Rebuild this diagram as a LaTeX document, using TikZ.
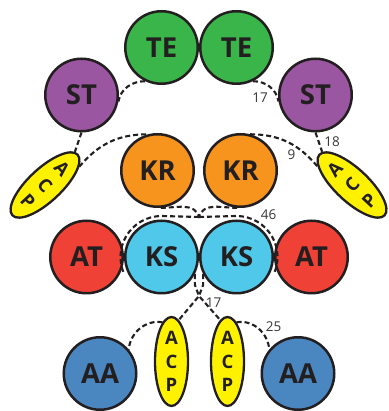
\documentclass[tikz,border=0pt]{standalone}
\usepackage{fontspec}
\setmainfont{Open Sans}
\usetikzlibrary{shapes.geometric}

\definecolor{ink}{HTML}{231F20}
\definecolor{teGreen}{HTML}{39B54A}
\definecolor{stPurple}{HTML}{9A56A1}
\definecolor{krOrange}{HTML}{F7941D}
\definecolor{atRed}{HTML}{EF4136}
\definecolor{ksCyan}{HTML}{4FC8EA}
\definecolor{aaBlue}{HTML}{4A86C0}
\definecolor{acpYellow}{HTML}{FFF200}

\tikzset{
  modball/.style={circle, draw=ink, line width=2.5pt, minimum size=72.5pt,
    inner sep=0pt, text=ink, font=\fontsize{27.5}{27.5}\selectfont\bfseries},
  carrier/.style={ellipse, draw=ink, fill=acpYellow, line width=2.3pt,
    minimum width=33pt, minimum height=89pt, inner sep=0pt, align=center,
    text=ink, font=\fontsize{18.5}{23.5}\selectfont\bfseries},
  linker/.style={draw=ink, line width=2.1pt, dash pattern=on 5pt off 3pt},
  lenlabel/.style={inner sep=0pt, text=ink!90, font=\fontsize{13.5}{13.5}\selectfont}
}

\begin{document}
\begin{tikzpicture}[x=1pt, y=1pt]
\useasboundingbox (0,0) rectangle (388,411);

% thioesterase dimer and starter units
\node[modball, fill=teGreen]  (teL) at (161.5,363.5) {TE};
\node[modball, fill=teGreen]  (teR) at (236.5,363.5) {TE};
\node[modball, fill=stPurple] (stL) at (81.5,316) {ST};
\node[modball, fill=stPurple] (stR) at (315.5,316) {ST};

% ketoreductases and tilted carrier proteins
\node[modball, fill=krOrange] (krL) at (157.5,240.5) {KR};
\node[modball, fill=krOrange] (krR) at (240.5,240.5) {KR};
\node[carrier, rotate=-47] (acpTL) at (45,226) {A\\C\\P};
\node[carrier, rotate=47]  (acpTR) at (352,226) {A\\C\\P};

% acyltransferases and ketosynthase dimer
\node[modball, fill=atRed]  (atL) at (86.5,154) {AT};
\node[modball, fill=ksCyan] (ksL) at (161.5,154) {KS};
\node[modball, fill=ksCyan] (ksR) at (236.5,154) {KS};
\node[modball, fill=atRed]  (atR) at (311.5,154) {AT};

% lower carrier proteins and adenylation domains
\node[carrier] (acpBL) at (171.5,49.5) {A\\C\\P};
\node[carrier] (acpBR) at (227.5,49.5) {A\\C\\P};
\node[modball, fill=aaBlue] (aaL) at (100,37.5) {AA};
\node[modball, fill=aaBlue] (aaR) at (298,37.5) {AA};

% linker junctions
\coordinate (J) at (199,194);
\coordinate (K) at (199,115);

% linkers
\draw[linker] (teL.244) to[out=180, in=80] (stL.-10);
\draw[linker] (teR.296) to[out=0, in=100] (stR.190);
\draw[linker] (stL.south) -- (acpTL.95);
\draw[linker] (stR.south) -- (acpTR.85);
\draw[linker] (acpTL.75) to[out=50, in=180] (krL.105);
\draw[linker] (krR.75) to[out=0, in=130] (acpTR.105);

\draw[linker] (krL.-85) to[out=0, in=105] (J);
\draw[linker] (krR.-95) to[out=180, in=75] (J);
\draw[linker] (J) -- ([yshift=41pt]ksL.center) arc[start angle=90, end angle=205, radius=41];
\draw[linker] (J) -- ([yshift=41pt]ksR.center) arc[start angle=90, end angle=-25, radius=41];

\draw[linker] (ksL.-27) -- ++(0,-11) -- (K) -- (acpBL.80);
\draw[linker] (ksR.207) -- ++(0,-11) -- (K) -- (acpBR.100);

\draw[linker] (acpBL.103) to[out=170, in=85] (aaL.40);
\draw[linker] (acpBR.77) to[out=10, in=95] (aaR.140);

% linker lengths
\node[lenlabel] (n17a) at (260,313) {17};
\node[lenlabel] (n18)  at (332,269.5) {18};
\node[lenlabel] (n9)   at (291.5,256) {9};
\node[lenlabel] (n46)  at (268.5,196) {46};
\node[lenlabel] (n17b) at (213.5,108.5) {17};
\node[lenlabel] (n25)  at (273.5,84) {25};
\end{tikzpicture}
\end{document}
